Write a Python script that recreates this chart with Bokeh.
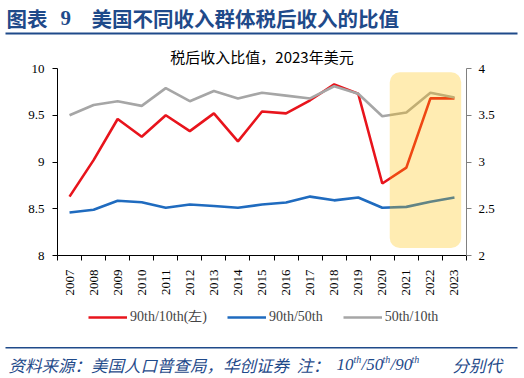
import math
from bokeh.plotting import figure
from bokeh.layouts import column
from bokeh.models import (Range1d, LinearAxis, FixedTicker, BoxAnnotation,
                          Legend, LegendItem)
from bokeh.core.properties import value
from bokeh.embed import file_html
from bokeh.resources import INLINE

years = list(range(2007, 2024))
ratio_90_10 = [8.63, 9.02, 9.46, 9.27, 9.50, 9.33, 9.52, 9.22, 9.54, 9.52,
               9.66, 9.83, 9.73, 8.77, 8.94, 9.68, 9.68]
ratio_90_50 = [2.46, 2.49, 2.585, 2.57, 2.51, 2.545, 2.53, 2.51, 2.545, 2.567,
               2.63, 2.59, 2.62, 2.51, 2.52, 2.575, 2.62]
ratio_50_10 = [3.50, 3.61, 3.65, 3.60, 3.79, 3.65, 3.76, 3.68, 3.74, 3.71,
               3.68, 3.81, 3.73, 3.49, 3.53, 3.74, 3.69]
left_ticks = [8, 8.5, 9, 9.5, 10]
right_ticks = [2, 2.5, 3, 3.5, 4]
highlight_years = (2020.31, 2023.28)
highlight_left_vals = (8.08, 9.96)

title_text = "图表"
title_num = "9"
title_main = "美国不同收入群体税后收入的比值"
subtitle = "税后收入比值，2023年美元"
legend_labels = ["90th/10th(左)", "90th/50th", "50th/10th"]
footer_source = "资料来源：美国人口普查局，华创证券"
footer_note = ["注：", "10", "th", "/50", "th", "/90", "th", "分别代"]

W, H = 524, 378
HEAD_H, BOT_H = 40, 78
MAIN_H = H - HEAD_H - BOT_H
FL, FR = 57, 466
FT, FB = 68 - HEAD_H, 255 - HEAD_H  # frame edges inside main figure

NAVY = "#1F4A8A"
RED = "#E8141C"
BLUE = "#1F6BBF"
GRAY = "#A6A6A6"
SERIF = "Liberation Serif"
CJK = "Noto Sans CJK SC"
LW = 2.6


def blank_fig(h):
    f = figure(width=W, height=h, output_backend="svg", toolbar_location=None,
               x_range=Range1d(0, W), y_range=Range1d(h, 0),
               x_axis_type=None, y_axis_type=None, frame_align=False,
               min_border=0, min_border_left=0, min_border_right=0,
               min_border_top=0, min_border_bottom=0)
    f.outline_line_color = None
    f.xgrid.visible = False
    f.ygrid.visible = False
    return f


def put_text(f, text, x, y, size, font=CJK, color="black", style="normal",
             align="left"):
    f.text(x=[x], y=[y], text=[text], text_font=value(font),
           text_font_size=size, text_color=color, text_font_style=style,
           text_align=align, text_baseline="middle")


# ---------------- header ----------------
head = blank_fig(HEAD_H)
put_text(head, title_text, 6, 17, "20.5px", color=NAVY, style="bold")
put_text(head, title_num, 60, 17, "21px", font=SERIF, color=NAVY, style="bold")
put_text(head, title_main, 91, 17, "20.5px", color=NAVY, style="bold")
head.quad(left=[5], right=[517], top=[32], bottom=[34], fill_color=NAVY,
          line_color=None)

# ---------------- main chart ----------------
p = figure(width=W, height=MAIN_H, output_backend="svg", toolbar_location=None,
           x_range=Range1d(2006.5, 2023.5), y_range=Range1d(8, 10),
           frame_align=False,
           min_border_left=FL, min_border_right=W - FR,
           min_border_top=FT, min_border_bottom=MAIN_H - FB)
p.outline_line_color = None
p.xgrid.visible = False
p.ygrid.visible = False
p.extra_y_ranges = {"right": Range1d(2, 4)}

p.title.text = subtitle
p.title.align = "center"
p.title.offset = -4
p.title.text_font = CJK
p.title.text_font_size = "15px"
p.title.text_font_style = "normal"
p.title.text_color = "black"
p.title.standoff = 4

xa = p.xaxis[0]
xa.ticker = FixedTicker(ticks=years, minor_ticks=[y - 0.5 for y in years] + [2023.5])
xa.major_tick_line_color = None
xa.minor_tick_line_color = "black"
xa.minor_tick_out = 5
xa.minor_tick_in = 0
xa.axis_line_color = "black"
xa.major_label_orientation = math.pi / 2
xa.major_label_text_font = SERIF
xa.major_label_text_font_size = "13px"
xa.major_label_standoff = 8
xa.major_label_text_color = "black"

ya = p.yaxis[0]
ya.ticker = FixedTicker(ticks=left_ticks)
ya.major_label_overrides = {8: "8", 8.5: "8.5", 9: "9", 9.5: "9.5", 10: "10"}
ya.major_tick_out = 5
ya.major_tick_in = 0
ya.minor_tick_line_color = None
ya.axis_line_color = "black"
ya.major_label_text_font = SERIF
ya.major_label_text_font_size = "13px"
ya.major_label_standoff = 8
ya.major_label_text_color = "black"

ra = LinearAxis(y_range_name="right", ticker=FixedTicker(ticks=right_ticks))
ra.major_label_overrides = {2: "2", 2.5: "2.5", 3: "3", 3.5: "3.5", 4: "4"}
ra.major_tick_out = 5
ra.major_tick_in = 0
ra.minor_tick_line_color = None
ra.axis_line_color = "#808080"
ra.major_tick_line_color = "#808080"
ra.major_label_text_font = SERIF
ra.major_label_text_font_size = "13px"
ra.major_label_standoff = 7
ra.major_label_text_color = "black"
p.add_layout(ra, "right")

p.line(years, ratio_90_10, line_color=RED, line_width=LW)
p.line(years, ratio_90_50, line_color=BLUE, line_width=LW, y_range_name="right")
p.line(years, ratio_50_10, line_color=GRAY, line_width=LW, y_range_name="right")

box = BoxAnnotation(left=highlight_years[0], right=highlight_years[1],
                    bottom=highlight_left_vals[0], top=highlight_left_vals[1],
                    fill_color="#FFC000", fill_alpha=0.3, line_color=None,
                    border_radius=10, level="overlay")
p.add_layout(box)

# ---------------- legend + footer ----------------
# legend proxies: the same series, plotted far outside this strip's visible range
bot = blank_fig(BOT_H)
k1 = bot.line(years, ratio_90_10, line_color=RED, line_width=LW)
k2 = bot.line(years, ratio_90_50, line_color=BLUE, line_width=LW)
k3 = bot.line(years, ratio_50_10, line_color=GRAY, line_width=LW)
legend = Legend(items=[LegendItem(label=legend_labels[0], renderers=[k1]),
                       LegendItem(label=legend_labels[1], renderers=[k2]),
                       LegendItem(label=legend_labels[2], renderers=[k3])],
                orientation="horizontal", location=(88, BOT_H - 26),
                label_text_font=SERIF, label_text_font_size="14px",
                glyph_width=39, glyph_height=12, label_standoff=3, spacing=20,
                padding=0, margin=0, border_line_color=None,
                background_fill_alpha=0)
bot.add_layout(legend, "center")

bot.quad(left=[5], right=[517], top=[46.5], bottom=[48], fill_color=NAVY,
         line_color=None)
FY = 64
put_text(bot, footer_source, 8, FY, "16.5px", color=NAVY, style="italic")
put_text(bot, footer_note[0], 296, FY, "16.5px", color=NAVY, style="italic")
xs = [336, 353, 361, 382, 390, 411]
for t, x in zip(footer_note[1:7], xs):
    if t == "th":
        put_text(bot, t, x, FY - 5, "10px", font=SERIF, color=NAVY, style="italic")
    else:
        put_text(bot, t, x, FY, "17px", font=SERIF, color=NAVY, style="italic")
put_text(bot, footer_note[7], 452, FY, "16.5px", color=NAVY, style="italic")

layout = column(head, p, bot, spacing=0)
open("out.html", "w").write(file_html(layout, INLINE))
